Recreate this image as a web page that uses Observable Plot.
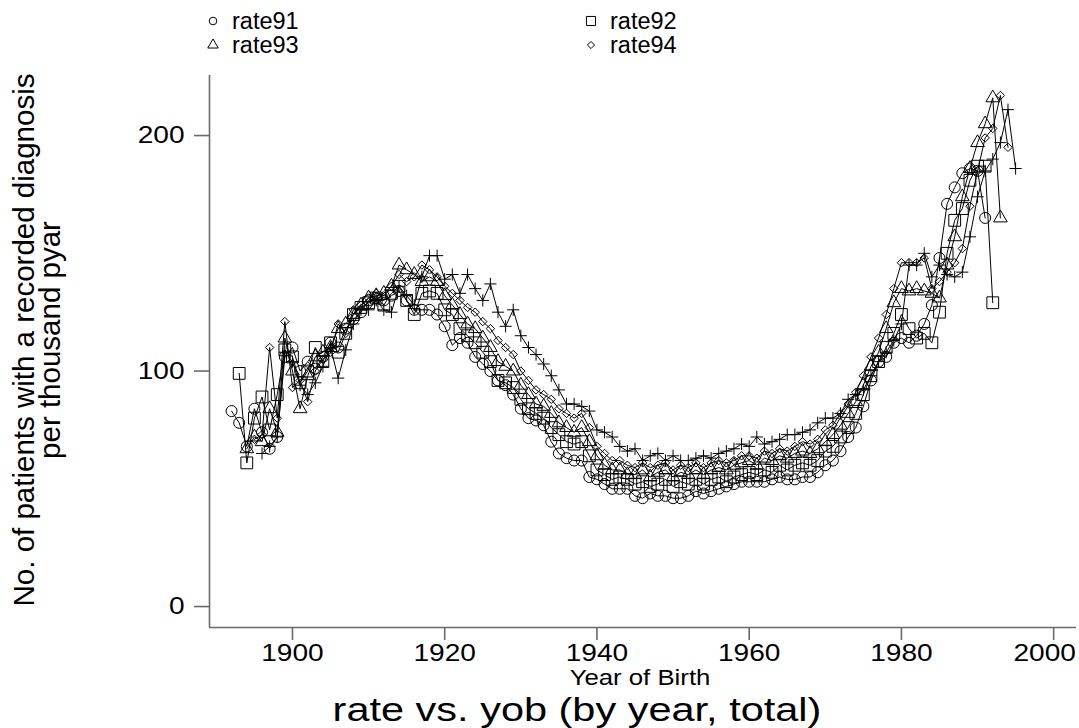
<!DOCTYPE html>
<html><head><meta charset="utf-8">
<script src="https://cdn.jsdelivr.net/npm/d3@7"></script>
<script src="https://cdn.jsdelivr.net/npm/@observablehq/plot@0.6"></script>
<style>body{margin:0;background:#fff}#chart svg{display:block}</style>
</head><body><div id="chart"></div>
<script>
// ---- data ----
const rate91Start = 1892;
const rate91 = [83,78,68,84,74,67,72,106,110,100,
  104,101,106,112,110,118,122,125,130,131,
  130,132,134,130,126,126,126,124,119,111,
  114,112,106,103,100,96,94,90,84,80,
  79,77,70,65,63,62,62,55,54,52,
  50,50,50,47,46,48,47,47,46,46,
  47,49,48,49,50,51,52,53,53,53,
  53,54,55,54,54,55,55,57,60,62,
  66,72,76,85,96,104,106,112,114,112,
  115,120,128,148,171,178,184,186,185,165];
const rate92Start = 1893;
const rate92 = [99,61,80,89,75,90,109,106,95,100,
  110,104,112,108,116,124,127,129,131,128,
  133,136,130,124,133,134,133,126,124,118,
  115,112,108,104,96,95,93,88,84,82,
  80,76,73,70,69,70,64,58,56,54,
  55,54,52,53,51,52,54,51,53,52,
  54,52,54,55,53,55,56,57,56,58,
  57,60,58,60,61,60,62,66,68,72,
  76,82,90,98,104,110,116,124,118,114,
  116,112,125,150,164,169,181,187,187,129];
const rate93Start = 1894;
const rate93 = [67,72,70,84,74,114,100,84,98,106,
  108,110,118,120,124,128,131,132,133,136,
  145,143,141,138,140,138,132,128,124,120,
  118,114,110,104,102,100,94,90,86,85,
  82,78,76,74,76,70,64,60,58,58,
  56,56,58,55,57,58,55,57,56,58,
  56,58,59,58,60,61,62,60,63,62,
  64,63,65,66,65,67,70,73,77,82,
  87,94,102,108,118,129,135,134,135,134,
  133,131,145,157,174,186,197,205,216,165];
const rate94Start = 1895;
const rate94 = [71,73,110,80,121,93,96,87,100,105,
  108,120,116,126,128,131,133,132,136,141,
  138,140,145,143,140,136,133,130,127,125,
  121,118,113,110,107,100,96,92,90,88,
  84,82,80,82,76,68,65,62,62,60,
  59,61,59,60,61,58,60,59,61,59,
  61,62,61,62,64,64,63,66,65,67,
  66,68,70,69,71,75,77,82,86,91,
  98,106,114,124,135,146,146,146,148,135,
  138,142,146,152,170,185,199,203,217,195];
const rate95Start = 1896;
const rate95 = [65,68,72,108,104,94,90,95,102,110,
  97,109,120,126,126,130,126,125,136,132,
  128,140,149,149,139,141,133,141,135,130,
  137,125,119,126,115,110,107,103,98,92,
  86,86,85,83,75,74,72,68,66,67,
  62,64,65,62,64,62,62,63,64,63,
  65,66,67,69,68,72,69,70,71,73,
  73,74,75,78,80,80,82,88,90,92,
  98,104,108,113,120,145,145,150,140,145,
  141,140,142,157,174,185,190,197,211,186];

const seriesNames = ["rate91","rate92","rate93","rate94","rate95"];
const legendNames = ["rate91","rate92","rate93","rate94"];
const xTicks = [1900,1920,1940,1960,1980,2000];
const yTicks = [0,100,200];
const titleText = "rate vs. yob (by year, total)";
const xLabel = "Year of Birth";
const yLabel1 = "No. of patients with a recorded diagnosis";
const yLabel2 = "per thousand pyar";

// ---- build table ----
function toRows(name, start, vals){ return vals.map((v,i)=>({series:name, yob:start+i, rate:v})); }
const data = [
  ...toRows("rate91", rate91Start, rate91),
  ...toRows("rate92", rate92Start, rate92),
  ...toRows("rate93", rate93Start, rate93),
  ...toRows("rate94", rate94Start, rate94),
  ...toRows("rate95", rate95Start, rate95)
];
const symbols = {rate91: d3.symbolCircle, rate92: d3.symbolSquare2, rate93: d3.symbolTriangle2, rate94: d3.symbolDiamond2, rate95: d3.symbolPlus};
const radii = {rate91: 5.5, rate92: 7.5, rate93: 6.5, rate94: 3.8, rate95: 4};

const xDomain = [1889.1, 2003];
const yDomain = [-8.9, 225.5];
const axisGray = "#6a6a6a";
const font = "'Liberation Sans', Arial, Helvetica, sans-serif";
const stretch = 1.17; // the reference's lower texts are drawn a little wide

const marks = [
  Plot.ruleX([xDomain[0]], {stroke: axisGray, strokeWidth: 1.6}),
  Plot.ruleY([yDomain[0]], {stroke: axisGray, strokeWidth: 1.6}),
  Plot.axisX({ticks: xTicks, tickFormat: d => String(d), tickSize: 13, tickPadding: 3, label: null, fontSize: 24}),
  Plot.axisY({ticks: yTicks, tickSize: 15, tickPadding: 10, label: null, fontSize: 24})
];
for (const s of seriesNames) {
  const rows = data.filter(d => d.series === s);
  marks.push(Plot.line(rows, {x: "yob", y: "rate", stroke: "#000", strokeWidth: 1}));
}
for (const s of seriesNames) {
  const rows = data.filter(d => d.series === s);
  marks.push(Plot.dot(rows, {x: "yob", y: "rate", symbol: symbols[s], r: radii[s], stroke: "#000", fill: "none", strokeWidth: 1}));
}

const chart = Plot.plot({
  width: 1079, height: 728,
  marginLeft: 209, marginRight: 3, marginTop: 75, marginBottom: 101,
  x: {domain: xDomain},
  y: {domain: yDomain},
  style: {fontFamily: font, color: "#000", background: "#fff", overflow: "visible"},
  marks
});
document.getElementById("chart").append(chart);

const svg = d3.select(chart);
function widen(sel, k) {
  sel.each(function() {
    const len = this.getComputedTextLength();
    if (len > 0) d3.select(this).attr("textLength", len * k).attr("lengthAdjust", "spacingAndGlyphs");
  });
}
// axis tick lines in grey
svg.selectAll("g[aria-label='x-axis tick'] path, g[aria-label='y-axis tick'] path").attr("stroke", axisGray).attr("stroke-width", 1.6);
const xLabels = svg.selectAll("g[aria-label='x-axis tick label'] text");
const yLabels = svg.selectAll("g[aria-label='y-axis tick label'] text");
widen(xLabels, stretch);
widen(yLabels, stretch);
// keep the last x label inside the picture
xLabels.filter(function() { return this.textContent === "2000"; }).attr("dx", -9);

// axis titles and chart title
const ann = svg.append("g").attr("font-family", font).attr("fill", "#000").attr("text-anchor", "middle");
const xt = ann.append("text").attr("x", 640).attr("y", 685).attr("font-size", 22).text(xLabel);
const tt = ann.append("text").attr("x", 577).attr("y", 721).attr("font-size", 34).text(titleText);
widen(xt, stretch);
widen(tt, 1.22);
ann.append("text").attr("transform", "translate(34,340) rotate(-90)").attr("font-size", 29.5).text(yLabel1);
ann.append("text").attr("transform", "translate(60,340) rotate(-90)").attr("font-size", 29.5).text(yLabel2);

// legend (four keys, two columns)
const legendPos = {rate91: [213, 21], rate92: [591, 21], rate93: [213, 45], rate94: [591, 45]};
const legendR = {rate91: 3.8, rate92: 5.8, rate93: 5, rate94: 3.2};
const lg = svg.append("g").attr("font-family", font).attr("font-size", 23.5).attr("text-anchor", "start");
for (const s of legendNames) {
  const [lx, ly] = legendPos[s];
  lg.append("path").attr("transform", `translate(${lx},${ly})`)
    .attr("d", d3.symbol(symbols[s], Math.PI * legendR[s] * legendR[s])())
    .attr("fill", "none").attr("stroke", "#000").attr("stroke-width", 1);
  lg.append("text").attr("x", lx + 19).attr("y", ly + 8).text(s);
}
</script>
</body></html>
